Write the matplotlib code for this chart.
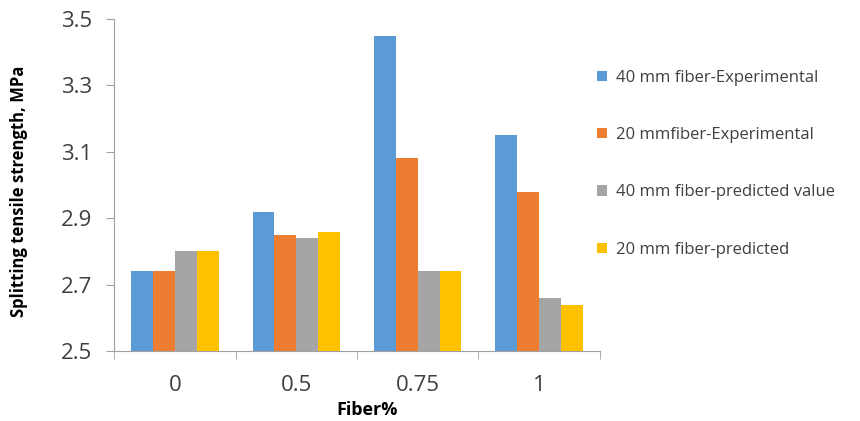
import matplotlib.pyplot as plt
import numpy as np

plt.rcParams["font.family"] = ["Open Sans", "DejaVu Sans"]

categories = ["0", "0.5", "0.75", "1"]
series_names = [
    "40 mm fiber-Experimental",
    "20 mmfiber-Experimental",
    "40 mm fiber-predicted value",
    "20 mm fiber-predicted",
]
exp_40 = [2.74, 2.92, 3.45, 3.15]
exp_20 = [2.74, 2.85, 3.08, 2.98]
pred_40 = [2.80, 2.84, 2.74, 2.66]
pred_20 = [2.80, 2.86, 2.74, 2.64]
colors = ["#5B9BD5", "#ED7D31", "#A5A5A5", "#FFC000"]

fig = plt.figure(figsize=(8.6, 4.21), dpi=100)
ax = fig.add_axes([0.1326, 0.166, 0.565, 0.789])

x = np.arange(len(categories))
width = 0.18
all_series = [exp_40, exp_20, pred_40, pred_20]
for i, (vals, name, c) in enumerate(zip(all_series, series_names, colors)):
    ax.bar(x + (i - 1.5) * width, np.array(vals) - 2.5, width, bottom=2.5,
           color=c, label=name, zorder=3)

ax.set_ylim(2.5, 3.5)
ax.set_yticks([2.5, 2.7, 2.9, 3.1, 3.3, 3.5])
ax.set_yticklabels(["2.5", "2.7", "2.9", "3.1", "3.3", "3.5"], fontsize=16, color="#404040")
ax.set_xlim(-0.5, len(categories) - 0.5)
ax.set_xticks(x)
ax.set_xticklabels(categories, fontsize=16, color="#404040")
ax.tick_params(axis="x", length=0, pad=17)
ax.set_xticks(np.arange(-0.5, len(categories)), minor=True)
ax.tick_params(axis="x", which="minor", length=6, color="#A0A0A0", direction="out")
ax.tick_params(axis="y", length=6, color="#A0A0A0", direction="out", pad=10)

for s in ["top", "right"]:
    ax.spines[s].set_visible(False)
for s in ["left", "bottom"]:
    ax.spines[s].set_color("#A0A0A0")

ax.set_ylabel("Splitting tensile strength, MPa", fontsize=12, fontweight="bold")
ax.yaxis.set_label_coords(-0.178, 0.48)
ax.set_xlabel("Fiber%", fontsize=13, fontweight="bold")
ax.xaxis.set_label_coords(0.52, -0.15)

fig.legend(loc="upper left", bbox_to_anchor=(0.677, 0.87), frameon=False,
           fontsize=12, handlelength=0.6, handleheight=0.6, handletextpad=0.5,
           labelspacing=2.48, labelcolor="#404040")

fig.savefig("out.png", dpi=100)
